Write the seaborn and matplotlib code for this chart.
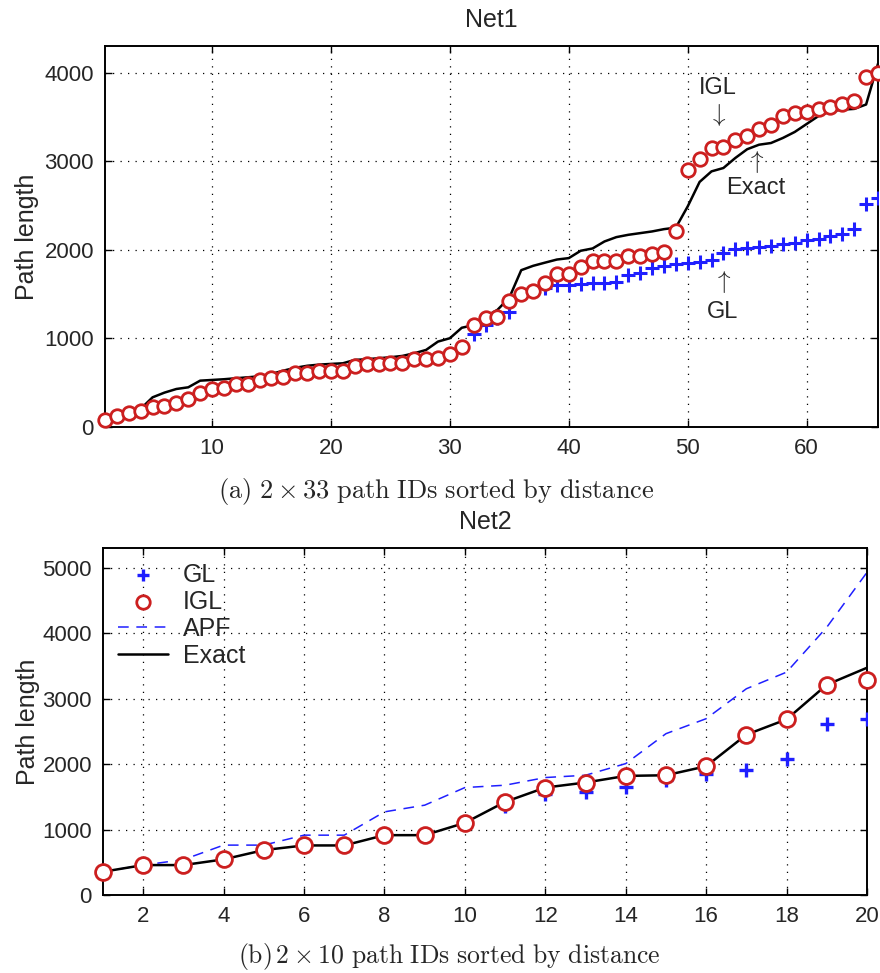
import numpy as np
import matplotlib
matplotlib.use("Agg")
import matplotlib.pyplot as plt
import seaborn as sns

# ---- Net1 data (2 x 33 path IDs) ----
ids1 = np.arange(1, 67)
igl1 = [76, 127, 162, 181, 222, 237, 268, 316, 380, 433,
        444, 481, 481, 527, 557, 565, 606, 614, 629, 629,
        636, 693, 712, 712, 727, 727, 765, 772, 780, 825,
        900, 1153, 1235, 1240, 1420, 1505, 1530, 1620, 1725, 1725,
        1805, 1872, 1872, 1872, 1925, 1925, 1951, 1970, 2207, 2900,
        3021, 3145, 3164, 3240, 3288, 3360, 3409, 3511, 3541, 3559,
        3586, 3608, 3646, 3684, 3955, 3995]
gl1 = [76, 127, 162, 181, 222, 237, 268, 316, 380, 433,
       444, 481, 481, 527, 557, 565, 606, 614, 629, 629,
       636, 693, 712, 712, 727, 727, 765, 772, 780, 825,
       900, 1055, 1150, 1235, 1303, 1505, 1530, 1565, 1605, 1605,
       1612, 1620, 1623, 1642, 1718, 1737, 1793, 1820, 1845, 1850,
       1862, 1887, 1962, 2007, 2019, 2030, 2045, 2068, 2075, 2113,
       2120, 2151, 2181, 2233, 2520, 2584]
exact1 = [80, 130, 165, 205, 335, 388, 429, 448, 523, 531,
          539, 550, 561, 572, 599, 636, 668, 691, 704, 712,
          719, 757, 765, 776, 787, 802, 832, 870, 964, 1002,
          1120, 1150, 1246, 1322, 1460, 1770, 1819, 1855, 1890, 1906,
          1989, 2015, 2094, 2143, 2169, 2188, 2207, 2233, 2250, 2490,
          2766, 2885, 2923, 3036, 3135, 3186, 3205, 3262, 3330, 3420,
          3510, 3563, 3582, 3590, 3640, 4100]

# ---- Net2 data (2 x 10 path IDs) ----
ids2 = np.arange(1, 21)
gl2 = [355, 457, 457, 544, 686, 757, 757, 914, 914, 1102,
       1360, 1550, 1575, 1651, 1753, 1845, 1916, 2073, 2617, 2693]
igl2 = [355, 457, 457, 544, 686, 757, 757, 914, 914, 1102,
        1422, 1641, 1718, 1819, 1829, 1966, 2449, 2683, 3212, 3288]
apf2 = [355, 457, 540, 762, 762, 914, 914, 1270, 1372, 1641,
        1677, 1794, 1829, 2007, 2464, 2693, 3150, 3404, 4090, 4928]
exact2 = [355, 457, 457, 544, 686, 757, 757, 914, 914, 1102,
          1422, 1641, 1718, 1819, 1829, 1966, 2449, 2683, 3212, 3471]

sns.set_style("ticks")
plt.rcParams['font.family'] = ['Liberation Sans', 'DejaVu Sans']
plt.rcParams['mathtext.fontset'] = 'cm'

RED = '#cc1f1f'
BLUE = '#1f1fff'

fig = plt.figure(figsize=(8.8, 9.73), dpi=100)
ax1 = fig.add_axes([105/880, 1-427/973, 773/880, 381/973])
ax2 = fig.add_axes([103/880, 1-895/973, 764/880, 347/973])


def style_axes(ax, lab_x):
    ax.grid(True, color='k', linestyle=(0, (1, 5)), linewidth=0.9)
    ax.tick_params(direction='in', top=True, right=True, length=5,
                   width=1.0, labelsize=16, pad=8, color='k')
    for s in ax.spines.values():
        s.set_linewidth(1.4)
        s.set_color('k')
    ax.set_ylabel('Path length', fontsize=18)
    ax.yaxis.set_label_coords(lab_x, 0.5)


# top panel
sns.lineplot(x=ids1, y=exact1, color='k', lw=1.8, ax=ax1, zorder=2)
sns.scatterplot(x=ids1, y=gl1, marker='+', color=BLUE, s=90, linewidth=2.2,
                ax=ax1, zorder=3)
sns.scatterplot(x=ids1, y=igl1, marker='o', facecolor='white', edgecolor=RED,
                s=95, linewidth=2.0, ax=ax1, zorder=4, clip_on=False)
ax1.set_xlim(1, 66)
ax1.set_ylim(0, 4300)
ax1.set_xticks(range(10, 61, 10))
ax1.set_yticks(range(0, 4001, 1000))
ax1.set_title('Net1', fontsize=18, pad=14)
style_axes(ax1, -0.085)
ax1.set_xlabel('')

ax1.text(52.5, 3830, 'IGL', fontsize=17, ha='center', va='center')
ax1.text(52.5, 3520, r'$\downarrow$', fontsize=18, ha='center', va='center')
ax1.text(55.7, 2990, r'$\uparrow$', fontsize=18, ha='center', va='center')
ax1.text(55.7, 2700, 'Exact', fontsize=17, ha='center', va='center')
ax1.text(52.9, 1640, r'$\uparrow$', fontsize=18, ha='center', va='center')
ax1.text(52.9, 1300, 'GL', fontsize=17, ha='center', va='center')

# bottom panel
sns.scatterplot(x=ids2, y=gl2, marker='+', color=BLUE, s=90, linewidth=2.4,
                ax=ax2, zorder=3, label='GL')
sns.lineplot(x=ids2, y=apf2, color=BLUE, lw=1.1, dashes=False, ax=ax2,
             zorder=2, label='APF').lines[-1].set_dashes((7, 5))
sns.lineplot(x=ids2, y=exact2, color='k', lw=1.8, ax=ax2, zorder=2,
             label='Exact')
sns.scatterplot(x=ids2, y=igl2, marker='o', facecolor='white', edgecolor=RED,
                s=130, linewidth=2.0, ax=ax2, zorder=4, clip_on=False,
                label='IGL')
ax2.set_xlim(1, 20)
ax2.set_ylim(0, 5300)
ax2.set_xticks(range(2, 21, 2))
ax2.set_yticks(range(0, 5001, 1000))
ax2.set_title('Net2', fontsize=18, pad=14)
style_axes(ax2, -0.083)
ax2.set_xlabel('')

h, l = ax2.get_legend_handles_labels()
order = [l.index(n) for n in ['GL', 'IGL', 'APF', 'Exact']]
ax2.legend([h[i] for i in order], [l[i] for i in order], loc='upper left',
           frameon=False, fontsize=18, handlelength=2.0, labelspacing=0.12,
           borderaxespad=0.2, handletextpad=0.6, markerscale=0.85)

fig.text(0.496, 1-491/973, r'$\mathrm{(a)\ 2\times 33\ path\ IDs\ sorted\ by\ distance}$',
         fontsize=19, ha='center', va='center')
fig.text(0.511, 1-957/973, r'$\mathrm{(b)\,2\times 10\ path\ IDs\ sorted\ by\ distance}$',
         fontsize=18.5, ha='center', va='center')

fig.savefig('out.png', dpi=100)
